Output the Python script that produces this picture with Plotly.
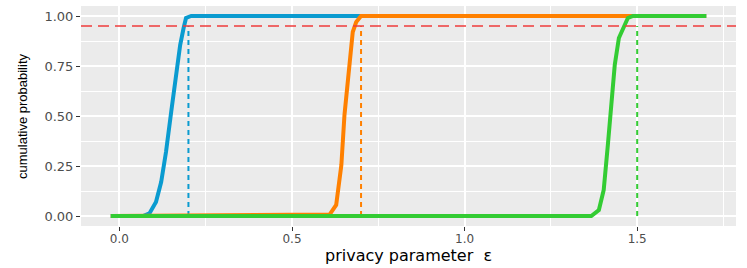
import plotly.graph_objects as go

# Series (privacy parameter eps vs cumulative probability)
blue_x = [-0.025, 0.068, 0.087, 0.106, 0.121, 0.135, 0.150, 0.164, 0.176, 0.186, 0.193, 0.208, 1.70]
blue_y = [0.0, 0.0, 0.013, 0.07, 0.17, 0.32, 0.52, 0.72, 0.855, 0.94, 0.99, 1.0, 1.0]

orange_x = [-0.025, 0.55, 0.609, 0.628, 0.643, 0.652, 0.665, 0.676, 0.686, 0.70, 1.70]
orange_y = [0.0, 0.005, 0.007, 0.055, 0.255, 0.505, 0.755, 0.92, 0.97, 1.0, 1.0]

green_x = [-0.025, 1.367, 1.389, 1.403, 1.415, 1.425, 1.435, 1.447, 1.459, 1.473, 1.488, 1.70]
green_y = [0.0, 0.0, 0.03, 0.13, 0.355, 0.555, 0.755, 0.89, 0.94, 0.99, 1.0, 1.0]

cut_x = [0.2, 0.7, 1.5]
threshold = 0.95

colors = ["#0a9bd0", "#ff8000", "#33cc33"]

x_ticks = [0.0, 0.5, 1.0, 1.5]
x_tick_labels = ["0.0", "0.5", "1.0", "1.5"]
y_ticks = [0.0, 0.25, 0.5, 0.75, 1.0]
y_tick_labels = ["0.00", "0.25", "0.50", "0.75", "1.00"]

x_title = "privacy parameter \u00a0ε"
y_title = "cumulative probability"

fig = go.Figure()

# vertical dashed reference segments
for cx, col in zip(cut_x, colors):
    fig.add_trace(go.Scatter(x=[cx, cx], y=[0, threshold], mode="lines",
                             line=dict(color=col, width=2, dash="5px,4px"),
                             showlegend=False, hoverinfo="skip"))

# horizontal threshold line
fig.add_hline(y=threshold, line=dict(color="#f03c3c", width=1.5, dash="11px,6px"), layer="above")

for xs, ys, col in [(blue_x, blue_y, colors[0]), (orange_x, orange_y, colors[1]), (green_x, green_y, colors[2])]:
    fig.add_trace(go.Scatter(x=xs, y=ys, mode="lines", line=dict(color=col, width=4),
                             showlegend=False))

fig.update_layout(
    width=747, height=268,
    margin=dict(l=81, r=11, t=6, b=42),
    paper_bgcolor="white", plot_bgcolor="#ebebeb",
    font=dict(family="DejaVu Sans, sans-serif"),
    showlegend=False,
    annotations=[
        dict(text=x_title, xref="paper", yref="paper", x=0.5, y=0, yshift=-29,
             xanchor="center", yanchor="middle", showarrow=False,
             font=dict(family="DejaVu Sans", size=16, color="black")),
        dict(text=y_title, xref="paper", yref="paper", x=0, y=0.5, xshift=-59,
             xanchor="center", yanchor="middle", showarrow=False, textangle=-90,
             font=dict(family="Liberation Sans", size=13, color="black")),
    ],
)
fig.update_xaxes(
    range=[-0.11125, 1.78625], tickvals=x_ticks, ticktext=x_tick_labels,
    showgrid=True, gridcolor="white", gridwidth=1.6, zeroline=False,
    minor=dict(dtick=0.25, tick0=0, showgrid=True, gridcolor="white", gridwidth=0.8, ticks=""),
    ticks="outside", ticklen=4, tickcolor="#333333", tickwidth=1,
    tickfont=dict(size=12, color="#4d4d4d"), ticklabelstandoff=-2,
    automargin=False, showline=False,
)
fig.update_yaxes(
    range=[-0.05, 1.05], tickvals=y_ticks, ticktext=y_tick_labels,
    showgrid=True, gridcolor="white", gridwidth=1.6, zeroline=False,
    minor=dict(dtick=0.125, tick0=0, showgrid=True, gridcolor="white", gridwidth=0.8, ticks=""),
    ticks="outside", ticklen=4, tickcolor="#333333", tickwidth=1,
    tickfont=dict(size=13, color="#4d4d4d"),
    automargin=False, showline=False,
)

fig.write_html("out.html", post_script="document.body.style.margin='0';",
               config={"displayModeBar": False})
